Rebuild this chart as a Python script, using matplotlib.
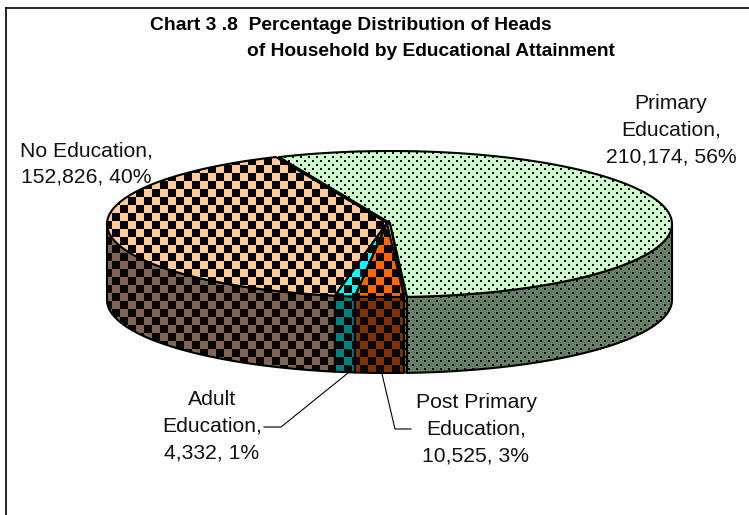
import matplotlib
matplotlib.use('Agg')
import matplotlib.pyplot as plt
from matplotlib.patches import Polygon
from matplotlib.colors import to_rgba
import numpy as np

categories = ['Primary\nEducation,', 'Post Primary\nEducation,', 'Adult\nEducation,', 'No Education,']
households = [210174, 10525, 4332, 152826]
percents = [56, 3, 1, 40]
top_colors = ['#CCFFCC', '#FF6600', '#00FFFF', '#FFCC99']
side_colors = ['#668066', '#803300', '#008080', '#806650']
title_lines = ['Chart 3 .8  Percentage Distribution of Heads', 'of Household by Educational Attainment']

# pie geometry, in image pixels
CX, CY, RX, RY, DEPTH = 388, 224, 281, 73, 76
START = 113.5

plt.rcParams['font.family'] = ['Liberation Sans', 'DejaVu Sans']
fig = plt.figure(figsize=(7.49, 5.15), dpi=100)
ax = fig.add_axes([0, 0, 1, 1])
ax.set_xlim(0, 749)
ax.set_ylim(515, 0)
ax.axis('off')

yy, xx = np.indices((515, 749))
checker_mask = ((xx // 8 + (yy + 3) // 8) % 2).astype(bool)
dots_mask = ((xx % 8 < 2) & (yy % 8 < 2)) | (((xx + 4) % 8 < 2) & ((yy + 4) % 8 < 2))


def rim(a0, a1, dx=0):
    t = np.radians(np.linspace(a0, a1, 120))
    return np.column_stack([CX + dx + RX * np.cos(t), CY - RY * np.sin(t)])


def fill(pts, color, mask, z):
    img = np.zeros((515, 749, 4))
    img[:] = to_rgba(color)
    img[mask] = (0.03, 0.03, 0.03, 1)
    base = Polygon(pts, closed=True, fc='none', ec='none', zorder=z)
    ax.add_patch(base)
    im = ax.imshow(img, extent=(0, 749, 515, 0), interpolation='nearest', zorder=z, aspect='auto')
    im.set_clip_path(base)
    ax.add_patch(Polygon(pts, closed=True, fc='none', ec='black', lw=1.5, zorder=z + 0.5, joinstyle='round'))


def label(x, y, category, i):
    text = '%s\n%s, %d%%' % (category, format(households[i], ','), percents[i])
    ax.text(x, y, text, ha='center', va='center', fontsize=15.2, linespacing=1.52, color='#111111', zorder=8)


shares = np.array(households) / sum(households) * 360
ends = START - np.cumsum(shares)
starts = np.concatenate([[START], ends[:-1]])

# side faces, only the front half of the rim shows
side_arcs = {3: rim(-180, ends[2]), 2: rim(ends[2], starts[2]), 1: rim(ends[1], starts[1]), 0: rim(ends[0], 0, 3)}
for i, arc in side_arcs.items():
    pts = np.vstack([arc, (arc + [0, DEPTH])[::-1]])
    fill(pts, side_colors[i], dots_mask if i == 0 else checker_mask, 2)

# cut face of the primary slice, a thin strip on both edges
bottom = rim(ends[0], ends[0], 3)[0]
fill([(CX + 2, CY - 1), bottom, bottom + [0, DEPTH], bottom + [-3, DEPTH - 1], bottom + [-3, 0]],
     side_colors[0], dots_mask, 3)
back = rim(START, START)[0]
ax.add_patch(Polygon([back, (CX + 1, CY - 1), (CX - 1, CY + 1), back + [-2, 1]], closed=True,
                     fc=side_colors[0], ec='black', lw=1.2, zorder=4))

# top faces
for i in range(4):
    dx = 3 if i == 0 else 0
    pts = np.vstack([[CX + dx - 1, CY - 1], rim(starts[i], ends[i], dx)])
    fill(pts, top_colors[i], dots_mask if i == 0 else checker_mask, 5)

# data labels
label(671, 130, categories[0], 0)
label(86, 164, categories[3], 3)
label(212, 426.5, categories[2], 2)
label(476, 429, categories[1], 1)

# leader lines
ax.plot([348, 281, 264], [373, 427, 427], color='black', lw=0.8, zorder=7)
ax.plot([382, 395, 411], [374, 429, 429], color='black', lw=0.8, zorder=7)

# title
ax.text(150, 25, title_lines[0], ha='left', va='center', fontsize=13.9, fontweight='bold', zorder=8)
ax.text(247, 52, title_lines[1], ha='left', va='center', fontsize=13.8, fontweight='bold', zorder=8)

# chart frame
ax.plot([6, 6], [515, 8], color='black', lw=1.2, zorder=9, clip_on=False)
ax.plot([6, 749], [8, 8], color='black', lw=1.2, zorder=9, clip_on=False)

fig.savefig('out.png', dpi=100)
